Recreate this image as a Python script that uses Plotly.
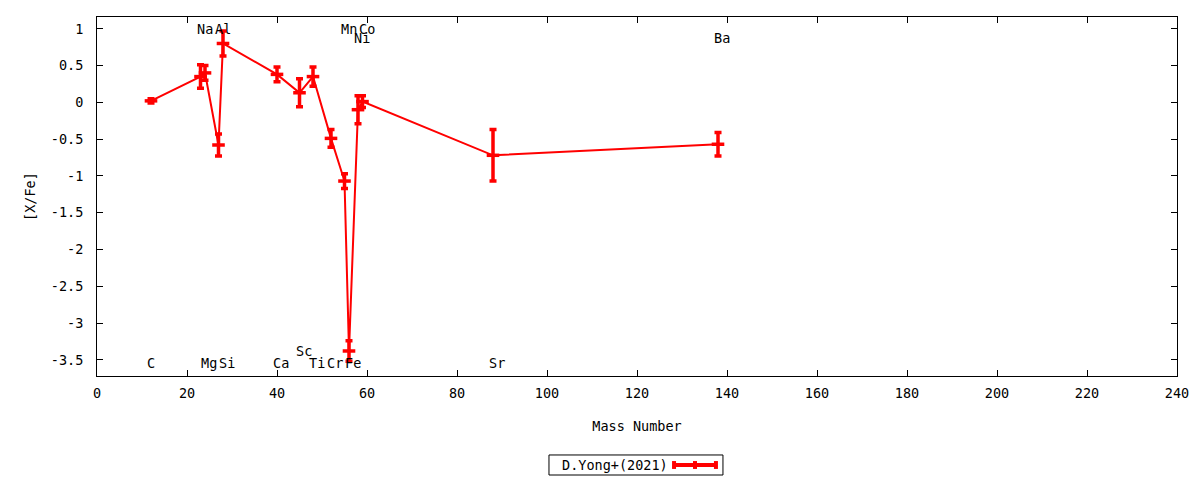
import plotly.graph_objects as go

# ---- data ----
elements = ["C", "Na", "Mg", "Al", "Si", "Ca", "Sc", "Ti", "Cr", "Mn", "Fe", "Ni", "Co", "Sr", "Ba"]
mass_number = [12, 23, 24, 27, 28, 40, 45, 48, 52, 55, 56, 58, 59, 88, 138]
x_fe = [0.02, 0.35, 0.40, -0.58, 0.80, 0.38, 0.13, 0.35, -0.49, -1.07, -3.38, -0.10, 0.01, -0.72, -0.57]
x_fe_err = [0.03, 0.16, 0.10, 0.15, 0.17, 0.10, 0.19, 0.13, 0.12, 0.10, 0.14, 0.19, 0.08, 0.35, 0.16]
series_name = "D.Yong+(2021)"

x_tick_vals = [0, 20, 40, 60, 80, 100, 120, 140, 160, 180, 200, 220, 240]
y_tick_vals = [1, 0.5, 0, -0.5, -1, -1.5, -2, -2.5, -3, -3.5]
y_tick_text = ["1", "0.5", "0", "-0.5", "-1", "-1.5", "-2", "-2.5", "-3", "-3.5"]

# label rows (text placement of element names)
label_row = {"C": "bottom", "Na": "top", "Mg": "bottom", "Al": "top", "Si": "bottom",
             "Ca": "bottom", "Sc": "bottom2", "Ti": "bottom", "Cr": "bottom", "Mn": "top",
             "Fe": "bottom", "Ni": "top2", "Co": "top", "Sr": "bottom", "Ba": "top2"}
row_y = {"top": 1.0, "top2": 0.88, "bottom": -3.55, "bottom2": -3.38}

RED = "#ff0000"
FONT = "DejaVu Sans Mono"
FS = 13.5

fig = go.Figure()
fig.add_trace(go.Scatter(
    x=mass_number, y=x_fe, mode="lines+markers", name=series_name,
    line=dict(color=RED, width=2),
    marker=dict(symbol="line-ew", size=9, color=RED, line=dict(color=RED, width=3.5)),
    error_y=dict(type="data", array=x_fe_err, visible=True, color=RED, thickness=3.5, width=3.5),
    showlegend=False,
))

for el, m in zip(elements, mass_number):
    fig.add_annotation(x=m, y=row_y[label_row[el]], text=el, showarrow=False,
                       xanchor="left", yanchor="middle", xshift=-6,
                       font=dict(family=FONT, size=FS, color="black"))

# manual legend (gnuplot style: text then sample)
fig.add_shape(type="rect", xref="paper", yref="paper", x0=0.4185, x1=0.5796, y0=-0.2758, y1=-0.2200,
              line=dict(color="black", width=1), fillcolor="white")
fig.add_annotation(xref="paper", yref="paper", x=0.4285, y=-0.2479, text=series_name, showarrow=False,
                   xanchor="left", yanchor="middle", font=dict(family=FONT, size=FS, color="black"))
ly = -0.2479
fig.add_shape(type="line", xref="paper", yref="paper", x0=0.5343, x1=0.5731, y0=ly, y1=ly,
              line=dict(color=RED, width=4))
for xc in (0.5343, 0.5537, 0.5731):
    fig.add_shape(type="line", xref="paper", yref="paper", x0=xc, x1=xc, y0=ly - 0.011, y1=ly + 0.011,
                  line=dict(color=RED, width=4))

fig.update_layout(
    width=1200, height=480,
    margin=dict(l=97, r=23, t=17, b=104),
    paper_bgcolor="white", plot_bgcolor="white",
    font=dict(family=FONT, size=FS, color="black"),
)
fig.update_xaxes(
    range=[0, 240], tickvals=x_tick_vals, ticks="inside", ticklen=6, tickcolor="black",
    showline=True, linecolor="black", linewidth=1, mirror="ticks", showgrid=False, zeroline=False,
    ticklabelstandoff=5, automargin=False,
    title=dict(text="Mass Number", standoff=21, font=dict(family=FONT, size=FS)),
)
fig.update_yaxes(
    range=[-3.72, 1.16], tickvals=y_tick_vals, ticktext=y_tick_text, ticks="inside", ticklen=6,
    tickcolor="black", showline=True, linecolor="black", linewidth=1, mirror="ticks",
    showgrid=False, zeroline=False, ticklabelstandoff=10, automargin=False,
    title=dict(text="[X/Fe]", standoff=12, font=dict(family=FONT, size=FS)),
)

fig.write_html("out.html", config={"displayModeBar": False},
               post_script="document.body.style.margin='0';document.body.style.padding='0';")
